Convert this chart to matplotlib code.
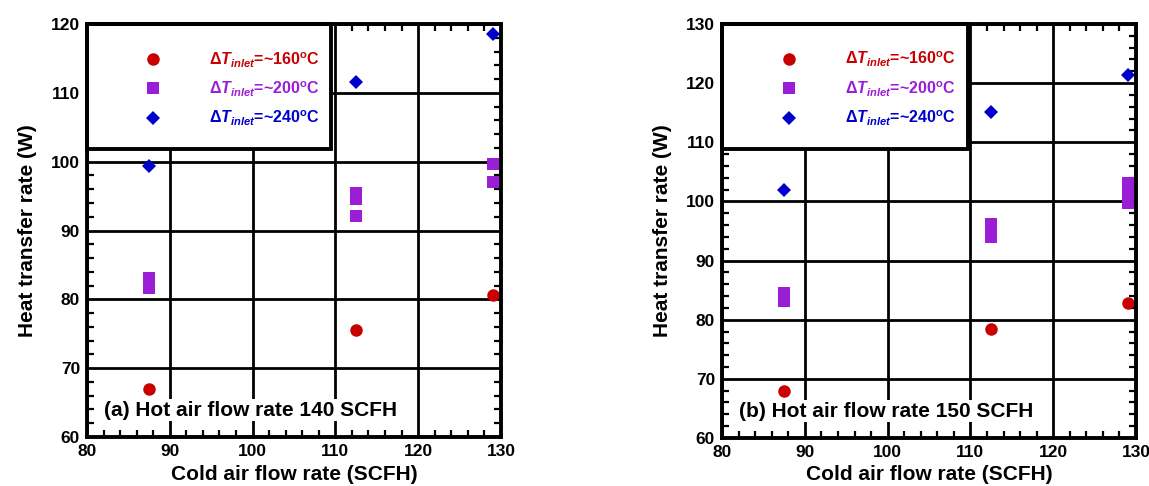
import matplotlib
matplotlib.use('Agg')
import matplotlib.pyplot as plt
from matplotlib.lines import Line2D
from matplotlib.patches import Rectangle
from matplotlib.ticker import MultipleLocator

plt.rcParams['font.family'] = 'Liberation Sans'
plt.rcParams['font.weight'] = 'bold'
plt.rcParams['mathtext.fontset'] = 'custom'
plt.rcParams['mathtext.rm'] = 'Liberation Sans:bold'
plt.rcParams['mathtext.it'] = 'Liberation Sans:bold:italic'
plt.rcParams['mathtext.bf'] = 'Liberation Sans:bold'

# data
# (a) hot air 140 SCFH
a_x160 = [87.5, 112.5, 129.0]
a_y160 = [67.0, 75.6, 80.6]
a_x200 = [87.5, 87.5, 87.5, 87.5, 112.5, 112.5, 112.5, 129.0, 129.0]
a_y200 = [81.6, 82.1, 82.6, 83.1, 92.1, 94.6, 95.5, 97.0, 99.7]
a_x240 = [87.5, 112.5, 129.0]
a_y240 = [99.4, 111.6, 118.5]

# (b) hot air 150 SCFH
b_x160 = [87.5, 112.5, 129.0]
b_y160 = [67.9, 78.4, 82.8]
b_x200 = [87.5] * 4 + [112.5] * 5 + [129.0] * 5
b_y200 = [83.2, 83.6, 84.0, 84.5,
          93.9, 94.4, 95.0, 95.6, 96.2,
          99.8, 100.4, 101.2, 102.1, 103.1]
b_x240 = [87.5, 112.5, 129.0]
b_y240 = [101.9, 115.1, 121.4]

labels = [r'$\Delta T_{inlet}$=~160$^{\rm o}$C',
          r'$\Delta T_{inlet}$=~200$^{\rm o}$C',
          r'$\Delta T_{inlet}$=~240$^{\rm o}$C']
colors = ['#c80000', '#9a1ed6', '#0000cc']
markers = ['o', 's', 'D']
msizes = [9, 8.5, 6.8]

fig = plt.figure(figsize=(11.49, 4.86), dpi=100)
ax1 = fig.add_axes([0.0757, 0.1008, 0.3603, 0.8498])
ax2 = fig.add_axes([0.6284, 0.0988, 0.3603, 0.8519])


def draw_panel(ax, series, ymax, leg_box, note):
    ax.set_xlim(80, 130)
    ax.set_ylim(60, ymax)
    ax.xaxis.set_major_locator(MultipleLocator(10))
    ax.yaxis.set_major_locator(MultipleLocator(10))
    ax.xaxis.set_minor_locator(MultipleLocator(2))
    ax.yaxis.set_minor_locator(MultipleLocator(2))
    ax.grid(True, which='major', color='black', linewidth=2.0, zorder=1)
    ax.set_axisbelow(True)
    ax.tick_params(which='major', length=0, labelsize=12.5, pad=5)
    ax.tick_params(which='minor', direction='in', length=5, width=1.6,
                   top=True, right=True)
    for s in ax.spines.values():
        s.set_linewidth(2.8)
        s.set_zorder(6)

    for (xs, ys), c, m, ms in zip(series, colors, markers, msizes):
        ax.plot(xs, ys, linestyle='none', marker=m, color=c,
                markersize=ms, markeredgewidth=0, zorder=4)

    # legend box
    x1, y0 = leg_box
    ax.add_patch(Rectangle((0, y0), x1, 1 - y0, transform=ax.transAxes,
                           facecolor='white', edgecolor='black',
                           linewidth=2.8, zorder=5, clip_on=False))
    handles = [Line2D([], [], linestyle='none', marker=m, color=c,
                      markersize=ms, markeredgewidth=0)
               for c, m, ms in zip(colors, markers, msizes)]
    leg = ax.legend(handles, labels, loc='center',
                    bbox_to_anchor=(x1 * 0.585 + 0.006, y0 + (1 - y0) * 0.48),
                    frameon=False, fontsize=11.5, handlelength=1,
                    handletextpad=3.0, labelspacing=0.62,
                    labelcolor=colors)
    leg.set_zorder(7)

    ax.text(0.04, 0.065, note, transform=ax.transAxes, fontsize=15,
            fontweight='bold', ha='left', va='center', zorder=5,
            bbox=dict(facecolor='white', edgecolor='none', pad=1))

    ax.set_xlabel('Cold air flow rate (SCFH)', fontsize=15,
                  fontweight='bold', labelpad=4)
    ax.set_ylabel('Heat transfer rate (W)', fontsize=15,
                  fontweight='bold', labelpad=10)


draw_panel(ax1, [(a_x160, a_y160), (a_x200, a_y200), (a_x240, a_y240)],
           120, (0.589, 0.697), '(a) Hot air flow rate 140 SCFH')
draw_panel(ax2, [(b_x160, b_y160), (b_x200, b_y200), (b_x240, b_y240)],
           130, (0.594, 0.698), '(b) Hot air flow rate 150 SCFH')

fig.savefig('out.png', dpi=100)
